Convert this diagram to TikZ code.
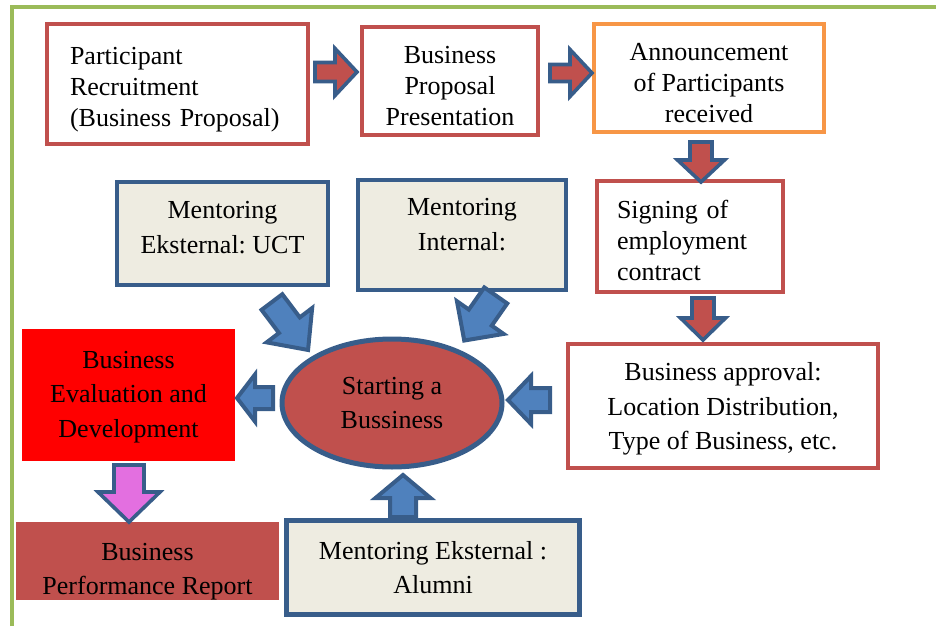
\documentclass[tikz,border=0pt]{standalone}
\usepackage{fontspec}
\setmainfont{Liberation Serif}
\usepackage{tikz}
\usetikzlibrary{shapes.geometric,calc}
\usepackage{xcolor}
\frenchspacing

\definecolor{boxred}{HTML}{C0504D}
\definecolor{boxorange}{HTML}{F79646}
\definecolor{boxblue}{HTML}{385D8A}
\definecolor{arrowblue}{HTML}{4F81BD}
\definecolor{boxcream}{HTML}{EEECE1}
\definecolor{framegreen}{HTML}{9BBB59}
\definecolor{arrowpink}{HTML}{E36FE0}

\tikzset{
  boxtext/.style={font=\fontsize{13}{15.5}\selectfont, align=center, inner sep=0pt},
  loose/.style={font=\fontsize{13}{17.3}\selectfont},
  redbox/.style={boxtext, rectangle, draw=boxred, line width=2pt, fill=white},
  orangebox/.style={boxtext, rectangle, draw=boxorange, line width=2pt, fill=white},
  mentorbox/.style={boxtext, loose, rectangle, draw=boxblue, line width=2.3pt, fill=boxcream},
  redarrow/.style={fill=boxred, draw=boxblue, line width=1.8pt, line join=miter},
  bluearrow/.style={fill=arrowblue, draw=boxblue, line width=2pt, line join=miter},
  pinkarrow/.style={fill=arrowpink, draw=boxblue, line width=1.8pt, line join=miter},
  % length / shaft width / head width / head length
  pics/blockarrow/.style args={#1/#2/#3/#4}{code={
    \path[pic actions] (-#1/2,-#2/2) -- (#1/2-#4,-#2/2) -- (#1/2-#4,-#3/2)
      -- (#1/2,0) -- (#1/2-#4,#3/2) -- (#1/2-#4,#2/2) -- (-#1/2,#2/2) -- cycle;
  }}
}

\begin{document}
\begin{tikzpicture}[x=0.5pt, y=-0.5pt]
  \useasboundingbox (0,0) rectangle (936,626);

  % Frame
  \draw[framegreen, line width=1.6pt] (12,626) -- (12,7) -- (936,7);

  % Top row
  \node[redbox, minimum width=130.5pt, minimum height=60pt, text width=107.5pt, align=left,
    text height=13.9pt] (recruit) at (177.5,84) {Participant\\Recruitment\\(Business Proposal)};
  \node[redbox, minimum width=88pt, minimum height=54pt, text height=44.4pt]
    (proposal) at (450,81) {Business\\Proposal\\Presentation};
  \node[orangebox, minimum width=115pt, minimum height=54pt, text height=44.9pt]
    (announce) at (709,78) {Announcement\\of Participants\\received};

  % Right column
  \node[redbox, minimum width=93pt, minimum height=55.5pt, text width=73pt, align=left,
    text height=13.5pt] (contract) at (690,236.5) {Signing of\\employment\\contract};
  \node[redbox, loose, minimum width=155pt, minimum height=62pt, text height=46.5pt]
    (approval) at (723,406) {Business approval:\\Location Distribution,\\Type of Business, etc.};

  % Mentoring
  \node[mentorbox, minimum width=105.5pt, minimum height=51.5pt, text depth=6.2pt]
    (uct) at (222.5,233.5) {Mentoring\\Eksternal: UCT};
  \node[mentorbox, minimum width=104pt, minimum height=55pt, text depth=10.7pt]
    (internal) at (462,235) {Mentoring\\Internal:};
  \node[mentorbox, minimum width=146.5pt, minimum height=47pt]
    (alumni) at (433,567.5) {Mentoring Eksternal :\\Alumni};

  % Centre
  \node[boxtext, loose, ellipse, draw=boxblue, line width=2.5pt, fill=boxred,
    minimum width=110pt, minimum height=64pt]
    (start) at (392,403) {Starting a\\Bussiness};

  % Left column
  \node[boxtext, loose, rectangle, fill=red, minimum width=106.5pt, minimum height=66pt,
    text height=45pt] (evaluation) at (128.5,395) {Business\\Evaluation and\\Development};
  \node[boxtext, loose, rectangle, fill=boxred, minimum width=131.5pt, minimum height=39pt,
    text height=36.7pt] (report) at (147.5,561) {Business\\Performance Report};

  % Block arrows
  \pic[redarrow] at (336,72) {blockarrow=42/19/47/22};
  \pic[redarrow] at (571,73) {blockarrow=42/17/47/22};
  \pic[redarrow, rotate=-90] at (701,162) {blockarrow=40/22/47/22};
  \pic[redarrow, rotate=-90] at (703,319) {blockarrow=42/22/45/22};
  \pic[bluearrow, rotate=-53] at (290,326) {blockarrow=60/26/57/31};
  \pic[bluearrow, rotate=-125] at (480,318) {blockarrow=55/28/57/28};
  \pic[bluearrow, rotate=180] at (255,398) {blockarrow=36/22/47/18};
  \pic[bluearrow, rotate=180] at (529,400) {blockarrow=42/24/48/23};
  \pic[bluearrow, rotate=90] at (403,496) {blockarrow=42/26/55/23};
  \pic[pinkarrow, rotate=-90] at (129,493.5) {blockarrow=57/30/62/30};
\end{tikzpicture}
\end{document}
